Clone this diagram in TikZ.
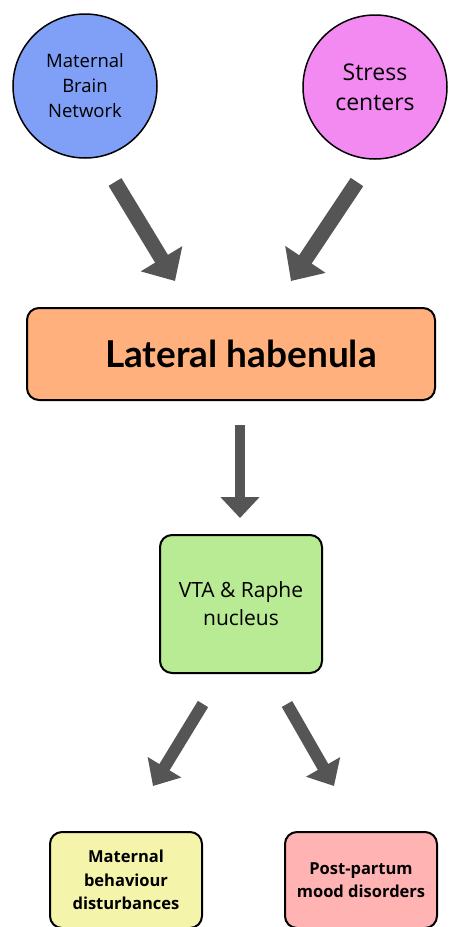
\documentclass[tikz,border=0pt]{standalone}
\usepackage{fontspec}
\setmainfont{Open Sans}
\newfontfamily\latof{Lato}
\usetikzlibrary{arrows.meta}
\definecolor{cblue}{HTML}{809FF6}
\definecolor{cmag}{HTML}{F28AF2}
\definecolor{corange}{HTML}{FFB07D}
\definecolor{cgreen}{HTML}{B8EB94}
\definecolor{cyellow}{HTML}{F4F4AA}
\definecolor{cpink}{HTML}{FFB3B3}
\definecolor{carrow}{HTML}{555555}
\tikzset{
  circnode/.style={circle,draw=black,line width=1.5pt,minimum size=144pt,inner sep=0pt,align=center},
  boxnode/.style={rectangle,rounded corners=12pt,draw=black,line width=2pt,inner sep=0pt,align=center},
  fatarrow/.style={draw=carrow,line width=15pt,-{Triangle[width=47pt,length=26pt]}},
  midarrow/.style={draw=carrow,line width=10pt,-{Triangle[width=38pt,length=21pt]}},
  smallarrow/.style={draw=carrow,line width=12pt,-{Triangle[width=38pt,length=22pt]}},
}
\begin{document}
\begin{tikzpicture}[x=1pt,y=-1pt]
\useasboundingbox[fill=white] (0,0) rectangle (448,927);
% circles
\node[circnode,fill=cblue,font=\fontsize{18.5}{25}\selectfont] (mbn) at (85,86) {Maternal\\Brain\\Network};
\node[circnode,fill=cmag,font=\fontsize{23}{30}\selectfont] (stress) at (375,87) {Stress\\centers};
% lateral habenula
\node[boxnode,fill=corange,minimum width=408pt,minimum height=92pt,font=\latof\bfseries\fontsize{37}{40}\selectfont] (lhb) at (231,354) {\hspace*{20pt}Lateral habenula};
% VTA
\node[boxnode,fill=cgreen,minimum width=162pt,minimum height=138pt,font=\fontsize{21}{28}\selectfont] (vta) at (241,604) {VTA \& Raphe\\nucleus};
% bottom
\node[boxnode,fill=cyellow,minimum width=152pt,minimum height=96pt,font=\bfseries\fontsize{16.5}{23.5}\selectfont] (mbd) at (126,880) {Maternal\\behaviour\\disturbances};
\node[boxnode,fill=cpink,minimum width=152pt,minimum height=96pt,font=\bfseries\fontsize{16.5}{23.5}\selectfont] (ppmd) at (361,880) {Post-partum\\mood disorders};
% arrow coordinates
\coordinate (a1s) at (115,182);
\coordinate (a1e) at (175,281);
\coordinate (a2s) at (357,182);
\coordinate (a2e) at (291,281);
\coordinate (a3s) at (240,425);
\coordinate (a3e) at (240,518);
\coordinate (a4s) at (203,704);
\coordinate (a4e) at (153,786);
\coordinate (a5s) at (287,704);
\coordinate (a5e) at (334,786);
\draw[fatarrow] (a1s) -- (a1e);
\draw[fatarrow] (a2s) -- (a2e);
\draw[midarrow] (a3s) -- (a3e);
\draw[smallarrow] (a4s) -- (a4e);
\draw[smallarrow] (a5s) -- (a5e);
\end{tikzpicture}
\end{document}
